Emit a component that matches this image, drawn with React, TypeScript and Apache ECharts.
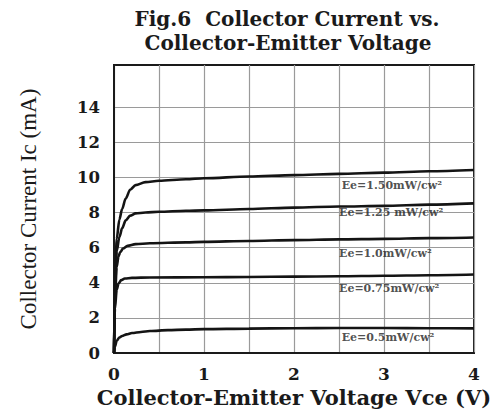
import React, { useEffect, useRef } from "react";
import * as echarts from "echarts";

// Irradiance curve names (labels drawn on the chart)
const curveNames = ["Ee=1.50mW/cw²", "Ee=1.25 mW/cw²", "Ee=1.0mW/cw²", "Ee=0.75mW/cw²", "Ee=0.5mW/cw²"];

// Vce (V), Ic (mA) points
const curve150: [number, number][] = [
  [0, 0], [0.01, 3.5], [0.03, 6.5], [0.06, 7.6], [0.09, 8.2], [0.13, 8.8], [0.18, 9.3], [0.24, 9.56],
  [0.35, 9.73], [0.5, 9.81], [0.8, 9.89], [1.0, 9.95], [1.5, 10.05], [2.0, 10.13], [2.5, 10.2],
  [3.0, 10.27], [3.5, 10.35], [4.0, 10.42],
];
const curve125: [number, number][] = [
  [0, 0], [0.01, 3.3], [0.03, 5.8], [0.06, 6.6], [0.09, 7.1], [0.13, 7.55], [0.18, 7.82], [0.24, 7.95],
  [0.35, 8.0], [0.5, 8.04], [0.8, 8.1], [1.0, 8.12], [1.5, 8.2], [2.0, 8.28], [2.5, 8.34],
  [3.0, 8.38], [3.5, 8.45], [4.0, 8.52],
];
const curve100: [number, number][] = [
  [0, 0], [0.01, 3.0], [0.03, 4.9], [0.05, 5.5], [0.07, 5.75], [0.1, 5.95], [0.15, 6.1], [0.24, 6.2],
  [0.4, 6.25], [0.8, 6.3], [1.0, 6.33], [1.5, 6.38], [2.0, 6.43], [2.5, 6.47], [3.0, 6.5],
  [3.5, 6.54], [4.0, 6.58],
];
const curve075: [number, number][] = [
  [0, 0], [0.01, 2.5], [0.03, 3.6], [0.05, 3.95], [0.08, 4.15], [0.12, 4.24], [0.2, 4.28], [0.4, 4.3],
  [1.0, 4.31], [1.5, 4.33], [2.0, 4.35], [2.5, 4.37], [3.0, 4.4], [3.5, 4.43], [4.0, 4.47],
];
const curve050: [number, number][] = [
  [0, 0], [0.01, 0.35], [0.03, 0.7], [0.06, 0.88], [0.09, 0.97], [0.14, 1.06], [0.2, 1.14], [0.3, 1.2],
  [0.4, 1.25], [0.6, 1.3], [0.8, 1.33], [1.0, 1.36], [1.5, 1.39], [2.0, 1.41], [2.5, 1.42],
  [3.0, 1.42], [3.5, 1.41], [4.0, 1.4],
];
const curves = [curve150, curve125, curve100, curve075, curve050];

// where each curve's label sits (left edge x, centre y) in data units
const labelX = [2.53, 2.5, 2.5, 2.5, 2.53];
const labelY = [9.56, 7.98, 5.67, 3.67, 0.86];

// axis ticks
const xTickLabels = [0, 1, 2, 3, 4];
const yTickLabels = [0, 2, 4, 6, 8, 10, 12, 14];

const titleLines = ["Fig.6  Collector Current vs.", "Collector-Emitter Voltage"];
const xName = "Collector-Emitter Voltage Vce (V)";
const yName = "Collector Current Ic (mA)";

const SERIF_WIDE = "'DejaVu Serif', serif";
const SERIF = "'Liberation Serif', 'Times New Roman', serif";

export default function App() {
  const ref = useRef<HTMLDivElement>(null);

  useEffect(() => {
    if (!ref.current) return;
    const chart = echarts.init(ref.current, undefined, { renderer: "svg" });

    const lineSeries = curves.map((c, i) => ({
      type: "line",
      name: curveNames[i],
      data: c,
      showSymbol: false,
      smooth: 0.3,
      smoothMonotone: "x",
      lineStyle: { color: "#141414", width: 2.6 },
      z: 3,
    }));

    const labelSeries = {
      type: "scatter",
      symbolSize: 0,
      silent: true,
      data: curveNames.map((n, i) => ({ name: n, value: [labelX[i], labelY[i]] })),
      label: {
        show: true,
        position: "right",
        distance: 0,
        formatter: "{b}",
        fontFamily: SERIF_WIDE,
        fontWeight: "bold",
        fontSize: 11,
        color: "#222",
      },
      z: 4,
    };

    const gray = "#9a9a9a";
    const titleStyle = {
      fontFamily: SERIF_WIDE,
      fontWeight: "bold",
      fontSize: 20,
      lineHeight: 23.5,
      color: "#1a1a1a",
    };
    chart.setOption({
      animation: false,
      backgroundColor: "#ffffff",
      title: [
        { text: titleLines[0], left: 287, top: 7.5, padding: 0, textAlign: "center", textStyle: titleStyle },
        { text: titleLines[1], left: 288, top: 31, padding: 0, textAlign: "center", textStyle: titleStyle },
      ],
      grid: {
        left: 114,
        right: 22,
        top: 65,
        bottom: 61,
        show: true,
        borderColor: "#1a1a1a",
        borderWidth: 2,
        backgroundColor: "transparent",
      },
      xAxis: {
        type: "value",
        min: 0,
        max: 4,
        interval: 0.5,
        name: xName,
        nameLocation: "middle",
        nameGap: 29,
        nameTextStyle: {
          fontFamily: SERIF_WIDE,
          fontWeight: "bold",
          fontSize: 21,
          color: "#1a1a1a",
        },
        axisLine: { show: true, lineStyle: { color: "#1a1a1a", width: 2 } },
        axisTick: { show: false },
        axisLabel: {
          margin: 12,
          fontFamily: SERIF_WIDE,
          fontWeight: "bold",
          fontSize: 17,
          color: "#1a1a1a",
          formatter: (v: number) => (xTickLabels.includes(v) ? String(v) : ""),
        },
        splitLine: { show: true, lineStyle: { color: gray, width: 1.2 } },
      },
      yAxis: {
        type: "value",
        min: 0,
        max: 16.4,
        interval: 2,
        name: yName,
        nameLocation: "middle",
        nameGap: 74,
        nameTextStyle: {
          fontFamily: SERIF,
          fontWeight: "normal",
          fontSize: 23,
          color: "#1a1a1a",
        },
        axisLine: { show: true, lineStyle: { color: "#1a1a1a", width: 2 } },
        axisTick: { show: false },
        axisLabel: {
          margin: 14,
          fontFamily: SERIF_WIDE,
          fontWeight: "bold",
          fontSize: 16.5,
          color: "#1a1a1a",
          formatter: (v: number) => (yTickLabels.includes(v) ? String(v) : ""),
        },
        splitLine: {
          show: true,
          lineStyle: {
            color: [gray, gray, gray, gray, gray, gray, gray, gray, "rgba(0,0,0,0)", "rgba(0,0,0,0)"],
            width: 1.2,
          },
        },
      },
      series: [...lineSeries, labelSeries],
    });

    return () => chart.dispose();
  }, []);

  return (
    <div
      ref={ref}
      style={{ position: "fixed", left: 0, top: 0, width: 496, height: 414, background: "#fff" }}
    />
  );
}
